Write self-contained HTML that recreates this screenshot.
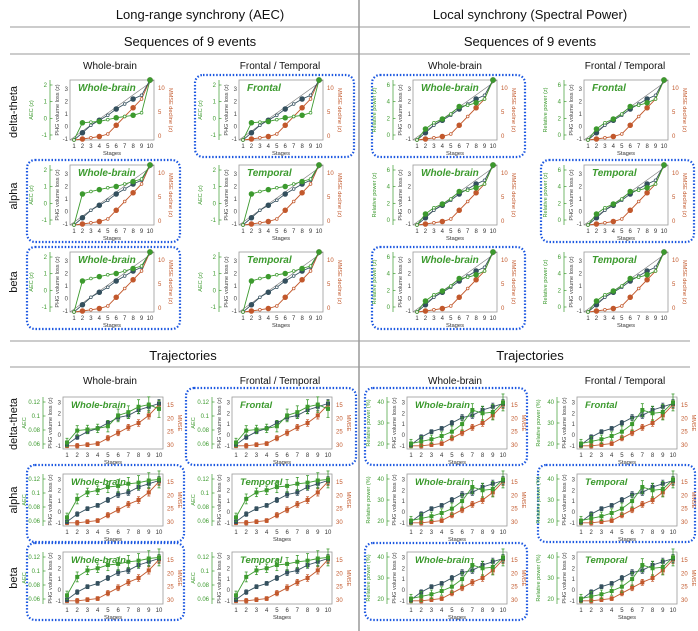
<!DOCTYPE html>
<html><head><meta charset="utf-8"><style>
html,body{margin:0;padding:0;background:#fff}
svg{display:block;font-family:"Liberation Sans",sans-serif}
</style></head><body>
<svg id="fig" width="698" height="631" viewBox="0 0 698 631" xmlns="http://www.w3.org/2000/svg">
<g stroke="#999" stroke-width="1">
<line x1="10" y1="27" x2="690" y2="27"/><line x1="10" y1="54" x2="690" y2="54"/>
<line x1="10" y1="341" x2="690" y2="341"/><line x1="10" y1="367" x2="690" y2="367"/>
<line x1="359" y1="0" x2="359" y2="631" stroke-width="1.5"/>
</g>
<g font-size="13" text-anchor="middle" fill="#111">
<text x="200" y="19">Long-range synchrony (AEC)</text>
<text x="530" y="19">Local synchrony (Spectral Power)</text>
<text x="190" y="46">Sequences of 9 events</text>
<text x="530" y="46">Sequences of 9 events</text>
<text x="183" y="360">Trajectories</text>
<text x="530" y="360">Trajectories</text>
</g>
<g font-size="10" text-anchor="middle" fill="#111">
<text x="110" y="69">Whole-brain</text>
<text x="280" y="69">Frontal / Temporal</text>
<text x="455" y="69">Whole-brain</text>
<text x="625" y="69">Frontal / Temporal</text>
<text x="110" y="384">Whole-brain</text>
<text x="280" y="384">Frontal / Temporal</text>
<text x="455" y="384">Whole-brain</text>
<text x="625" y="384">Frontal / Temporal</text>
</g>
<g font-size="11" text-anchor="middle" fill="#111">
<text transform="translate(17,112) rotate(-90)">delta-theta</text>
<text transform="translate(17,196) rotate(-90)">alpha</text>
<text transform="translate(17,282) rotate(-90)">beta</text>
<text transform="translate(17,424) rotate(-90)">delta-theta</text>
<text transform="translate(17,500) rotate(-90)">alpha</text>
<text transform="translate(17,578) rotate(-90)">beta</text>
</g>
<g id="panels"></g>
</svg>
<script>
// ---- data (y in PHG volume-loss z units, stages 1..10) ----
const stages = [1,2,3,4,5,6,7,8,9,10];
const seqPHG = [-1.08,-0.5,0.1,0.5,0.9,1.4,1.8,2.2,2.5,3.72];
const seqMMSE = [-1.08,-1.0,-0.9,-0.8,-0.6,0.1,0.8,1.5,2.2,3.72];
const seqAecA = [-1.08,0.3,0.35,0.4,0.55,0.7,0.8,0.9,1.1,3.72];
const seqAecB = [-1.08,1.4,1.6,1.75,1.9,2.0,2.2,2.4,2.6,3.72];
const seqPowC = [-1.08,-0.2,0.3,0.6,1.0,1.6,1.7,1.9,2.2,3.72];
const trajPHG = [-0.9,-0.2,0.3,0.6,1.1,1.6,1.8,2.3,2.6,2.9];
const trajMMSE = [-1.0,-1.0,-0.9,-0.8,-0.3,0.2,0.7,1.1,1.8,2.8];
const trajAecA = [-0.7,0.4,0.5,0.6,0.8,1.8,2.1,2.6,2.8,2.4];
const trajAecB = [-0.5,1.2,1.8,2.0,2.3,2.4,2.6,2.7,2.9,3.0];
const trajPowC = [-0.8,-0.6,-0.4,-0.1,0.3,1.0,2.3,2.0,2.1,3.0];
const trajErr = [0.3,0.35,0.3,0.3,0.4,0.45,0.45,0.5,0.55,0.6];
const phgTicks = [-1,0,1,2,3];
const stageTicks = ['1','2','3','4','5','6','7','8','9','10'];
const seqMmseTicks = ['0','5','10'];
const trajMmseTicks = ['30','25','20','15'];
const seqGreenTicks = ['-1','0','1','2'];
const seqPowTicks = ['0','2','4','6'];
const trajAecTicks = ['0.06','0.08','0.1','0.12'];
const trajPowTicks = ['20','30','40'];

const G='#3c9a2e', B='#34505e', O='#c2582c';
const NS='http://www.w3.org/2000/svg';
const root=document.getElementById('panels');
function mk(tag,attrs,parent){const e=document.createElementNS(NS,tag);for(const k in attrs)e.setAttribute(k,attrs[k]);(parent||root).appendChild(e);return e;}
function txt(s,attrs,parent){const e=mk('text',attrs,parent);e.textContent=s;return e;}

const titles=[['Whole-brain','Frontal','Whole-brain','Frontal'],['Whole-brain','Temporal','Whole-brain','Temporal'],['Whole-brain','Temporal','Whole-brain','Temporal']];
const boxed=[[0,1,1,0],[1,0,0,1],[1,0,1,0]];
const topBoxX=[[27,180],[195,354],[372,525],[541,694]];
const botBoxX=[[27,184],[186,356],[365,527],[538,695]];

function panel(sec,row,col){
  const top=sec===0;
  const px=top?[70,239,413,584][col]:[63,232,407,577][col];
  const py=top?[80,165,252][row]:[397,474,552][row];
  const w=top?84:100, h=top?60:52;
  const d0=top?-1.08:-1.3, d1=top?3.72:3.5;
  const g=mk('g',{});
  
  
  const xs=s=>px+4+(s-1)*(w-8)/9;
  const ys=v=>py+h-(v-d0)/(d1-d0)*h;
  if(boxed[row][col]){
    const bb=top?topBoxX[col]:botBoxX[col];
    const by=top?py-5:py-9, bh=top?82:77;
    const r=mk('rect',{x:bb[0],y:by,width:bb[1]-bb[0],height:bh,rx:8,fill:'none',stroke:'#1a56e0','stroke-width':2.2,'stroke-dasharray':'1.5 1.8'},g);
    
    
  }
  const f=mk('rect',{x:px,y:py,width:w,height:h,fill:'none',stroke:'#999','stroke-width':0.8},g);
  
  
  phgTicks.forEach(t=>{txt(String(t),{x:px-2,y:ys(t)+2,'font-size':6,'text-anchor':'end',fill:'#444'},g);});
  txt('PHG volume loss (z)',{transform:`translate(${px-11},${py+h/2}) rotate(-90)`,'font-size':5.6,'text-anchor':'middle',fill:'#444'},g);
  const gx=px-20;
  mk('line',{x1:gx,y1:py,x2:gx,y2:py+h,stroke:G,'stroke-width':0.7},g);
  const isPow=col>=2;
  const gt=top?(isPow?seqPowTicks:seqGreenTicks):(isPow?trajPowTicks:trajAecTicks);
  gt.forEach((t,i)=>{const yy=py+h-5-i*(h-10)/(gt.length-1);
    mk('line',{x1:gx,y1:yy,x2:gx+2.5,y2:yy,stroke:G,'stroke-width':0.7},g);
    txt(t,{x:gx-3,y:yy+2,'font-size':6,'text-anchor':'end',fill:G},g);});
  const gl=top?(isPow?'Relative power (z)':'AEC (z)'):(isPow?'Relative power (%)':'AEC');
  txt(gl,{transform:`translate(${px-37},${py+h/2}) rotate(-90)`,'font-size':5.6,'text-anchor':'middle',fill:G},g);
  const mt=top?seqMmseTicks:trajMmseTicks;
  mt.forEach((t,i)=>{const yy=py+h-4-i*(h-12)/(mt.length-1);
    txt(t,{x:px+w+4,y:yy+2,'font-size':6,fill:O},g);});
  txt(top?'MMSE decline (z)':'MMSE',{transform:`translate(${px+w+15},${py+h/2}) rotate(90)`,'font-size':5.6,'text-anchor':'middle',fill:O},g);
  stages.forEach((s,i)=>{txt(stageTicks[i],{x:xs(s),y:py+h+8,'font-size':6,'text-anchor':'middle',fill:'#333'},g);});
  txt('Stages',{x:px+w/2,y:py+h+15,'font-size':5.8,'text-anchor':'middle',fill:'#333'},g);
  if(top) mk('line',{x1:px,y1:py+h,x2:px+w,y2:py,stroke:'#777','stroke-width':0.6},g);
  const gs=top?(isPow?seqPowC:(row===0?seqAecA:seqAecB)):(isPow?trajPowC:(row===0?trajAecA:trajAecB));
  const series=top?[[seqMMSE,O],[seqPHG,B],[gs,G]]:[[trajMMSE,O],[trajPHG,B],[gs,G]];
  series.forEach(([arr,c],si)=>{
    const pts=arr.map((v,i)=>xs(stages[i]).toFixed(1)+','+ys(v).toFixed(1)).join(' ');
    const pl=mk('polyline',{points:pts,fill:'none',stroke:c,'stroke-width':0.9},g);
    
    
    arr.forEach((v,i)=>{
      const cx=xs(stages[i]), cy=ys(v);
      if(!top){const e=trajErr[i]*(si===2?1.3:0.6)*h/(d1-d0);
        mk('line',{x1:cx,y1:cy-e,x2:cx,y2:cy+e,stroke:c,'stroke-width':0.8},g);
        mk('line',{x1:cx-1.5,y1:cy-e,x2:cx+1.5,y2:cy-e,stroke:c,'stroke-width':0.8},g);
        mk('line',{x1:cx-1.5,y1:cy+e,x2:cx+1.5,y2:cy+e,stroke:c,'stroke-width':0.8},g);
        const m=mk('rect',{x:cx-2,y:cy-2,width:4,height:4,fill:c},g);
        
        
      } else {
        const m=mk('circle',{cx:cx,cy:cy,r:(i%2?2.4:1.4),fill:(i%2?c:'#fff'),stroke:c,'stroke-width':0.7},g);
        
        
      }
    });
  });
  txt(titles[row][col],{x:px+8,y:py+11,'font-size':top?10:9.5,'font-style':'italic','font-weight':'bold',fill:G},g);
}
for(let s=0;s<2;s++)for(let r=0;r<3;r++)for(let c=0;c<4;c++)panel(s,r,c);
</script>
</body></html>
